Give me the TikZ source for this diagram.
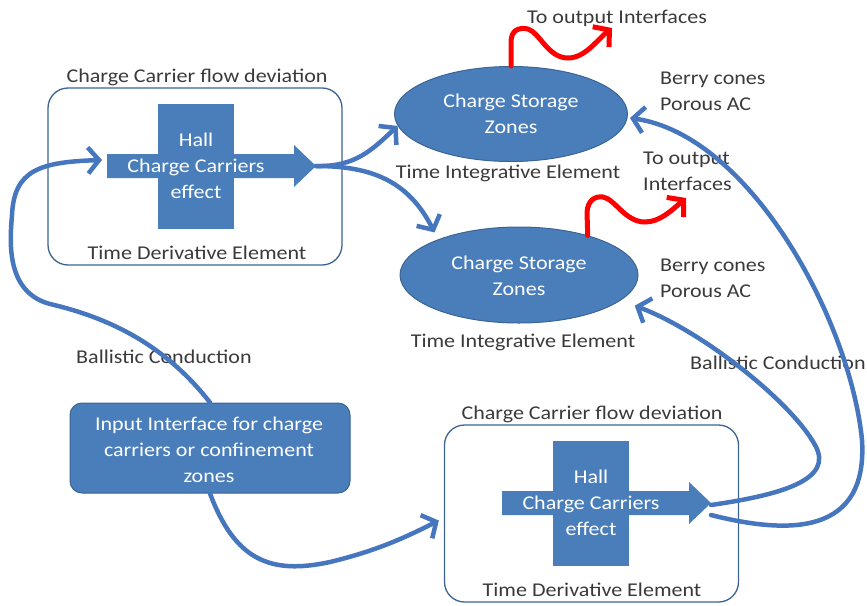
\documentclass[tikz,border=0pt]{standalone}
\usepackage{fontspec}
\setmainfont{Carlito}[FakeStretch=1.13]
\usetikzlibrary{arrows.meta,shapes.geometric}

\definecolor{officeblue}{HTML}{4A7EBB}
\definecolor{edgeblue}{HTML}{3B6494}
\definecolor{linkblue}{HTML}{4677BE}
\definecolor{inkgray}{HTML}{3A3A3A}
\definecolor{wirered}{HTML}{FF0000}

\tikzset{
  lbl/.style={font=\fontsize{19.5}{26}\selectfont, text=inkgray, inner sep=0pt},
  wlbl/.style={font=\fontsize{19.5}{26}\selectfont, text=white, inner sep=0pt, align=center},
  frame/.style={draw=edgeblue, line width=1.3pt, rounded corners=20pt,
    minimum width=294pt, minimum height=177pt, inner sep=0pt},
  store/.style={ellipse, fill=officeblue, draw=edgeblue, line width=1pt, inner sep=0pt},
  source/.style={fill=officeblue, draw=edgeblue, line width=1pt, rounded corners=12pt,
    minimum width=280pt, minimum height=90pt, inner sep=0pt},
  flow/.style={draw=linkblue, line width=4.5pt, line cap=round,
    -{Straight Barb[length=11pt,width=26pt]}},
  wave/.style={draw=wirered, line width=5pt, line cap=round,
    -{Straight Barb[length=11pt,width=26pt]}},
  hall/.pic={
    \node[fill=officeblue, minimum width=76pt, minimum height=125pt, inner sep=0pt] (-bar) at (0,0) {};
    \fill[officeblue] (-89,-12) -- (98,-12) -- (98,-21) -- (120,0) -- (98,21) -- (98,12) -- (-89,12) -- cycle;
    \coordinate (-tail) at (-89,0);
    \coordinate (-tip) at (120,0);
    \node[wlbl] (-txt) at (0,0) {Hall\\Charge Carriers\\effect};
  }
}

\begin{document}
\begin{tikzpicture}[x=1pt,y=-1pt]
\useasboundingbox (0,0) rectangle (867,605);

% the two flow-deviation frames
\node[frame] (boxA) at (195,176.5) {};
\node[frame] (boxB) at (591.5,513.5) {};
\node[lbl] (ttlA) at (197,77) {Charge Carrier flow deviation};
\node[lbl] (subA) at (197,253) {Time Derivative Element};
\node[lbl] (ttlB) at (592,414) {Charge Carrier flow deviation};
\node[lbl] (subB) at (592,590) {Time Derivative Element};

% Hall elements
\pic (hA) at (196,166) {hall};
\pic (hB) at (591,503) {hall};

% storage zones
\node[store, minimum width=233pt, minimum height=95pt] (st1) at (511,114) {};
\node[wlbl] (st1txt) at (511,114) {Charge Storage\\Zones};
\node[store, minimum width=238pt, minimum height=96pt] (st2) at (519,275) {};
\node[wlbl] (st2txt) at (519,276) {Charge Storage\\Zones};
\node[lbl] (tie1) at (508,173) {Time Integrative Element};
\node[lbl] (tie2) at (523,342) {Time Integrative Element};

% input interface
\node[source] (inp) at (210,448) {};
\node[wlbl] (inptxt) at (209,450) {Input Interface for charge\\carriers or confinement\\zones};

% side labels
\node[lbl] (out1txt) at (617,18) {To output Interfaces};
\node[lbl, align=left, anchor=west] (out2txt) at (643,171) {To output\\Interfaces};
\node[lbl, align=left, anchor=west] (berry1) at (660,91) {Berry cones\\Porous AC};
\node[lbl, align=left, anchor=west] (berry2) at (660,278) {Berry cones\\Porous AC};
\node[lbl] (ball1) at (164,357) {Ballistic Conduction};
\node[lbl, anchor=west] (ball2) at (690,363) {Ballistic Conduction};

% blue flow connectors
\draw[flow] (inp.north) .. controls (165,345) and (110,318) .. (50,304)
  .. controls (5,292) and (10,240) .. (12,215)
  .. controls (14,170) and (40,162) .. ([xshift=-5pt,yshift=6pt]hA-tail);
\draw[flow] (hA-tip) .. controls (355,167) and (372,150) .. (st1.186);
\draw[flow] (hA-tip) .. controls (370,166) and (408,180) .. ([xshift=-12pt,yshift=4pt]st2.152);
\draw[flow] (inp.south) .. controls (235,560) and (270,575) .. (330,562)
  .. controls (380,550) and (410,535) .. ([xshift=-5pt,yshift=-7pt]boxB.west);
\draw[flow] ([yshift=-2pt]hB-tip) .. controls (780,495) and (835,480) .. (815,445)
  .. controls (790,400) and (700,330) .. ([xshift=16pt,yshift=-4pt]st2.-15);
\draw[flow] ([yshift=-12pt]hB-tip) .. controls (790,535) and (868,535) .. (862,440)
  .. controls (850,320) and (750,135) .. ([xshift=2pt,yshift=-4pt]st1.east);

% red output connectors
\coordinate (out1) at (612,28);
\coordinate (out2) at (686,198);
\draw[wave] (st1.north) -- (511,42) .. controls (511,30) and (519,27) .. (528,29)
  .. controls (540,33) and (548,58) .. (568,58)
  .. controls (585,58) and (597,40) .. (out1);
\draw[wave] (st2.30) -- (587,212) .. controls (588,200) and (595,196) .. (603,197)
  .. controls (615,199) and (625,222) .. (645,222)
  .. controls (660,222) and (672,210) .. (out2);
\end{tikzpicture}
\end{document}
